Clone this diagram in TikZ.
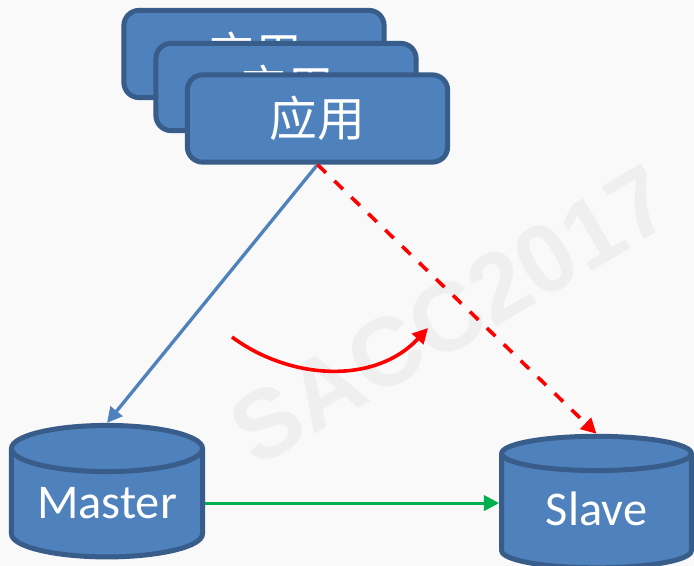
\documentclass[tikz,border=0pt]{standalone}
\usepackage{fontspec}
\setmainfont{Carlito}
\newfontfamily\cjkfont{Noto Sans CJK SC}
\newfontfamily\markfont{Liberation Sans}
\usetikzlibrary{arrows.meta,shapes.geometric}
\definecolor{pagebg}{HTML}{F9F9F9}
\definecolor{markgray}{HTML}{EFEFEF}
\definecolor{boxfill}{HTML}{4F81BD}
\definecolor{boxline}{HTML}{385D8A}
\definecolor{syncgreen}{HTML}{00B050}
\tikzset{
  appbox/.style={draw=boxline,fill=boxfill,line width=3.6pt,rounded corners=11pt,
    minimum width=188pt,minimum height=63pt,text=white,font=\cjkfont\fontsize{34.5}{40}\selectfont},
  dbnode/.style={cylinder,shape border rotate=90,shape aspect=0.31,draw=boxline,fill=boxfill,
    line width=3.6pt,text=white,text height=26pt,text depth=10pt,font=\fontsize{35}{40}\selectfont},
  readline/.style={color=boxfill,line width=2.4pt,-{Triangle[length=11pt,width=11pt]}},
  redline/.style={color=red,line width=2.6pt,-{Triangle[length=11pt,width=11pt]}},
  syncline/.style={color=syncgreen,line width=2.2pt,-{Triangle[length=11pt,width=11pt]}}
}
\begin{document}
\begin{tikzpicture}[x=0.01in,y=-0.01in]
  \fill[pagebg] (0,0) rectangle (694,566);
  \useasboundingbox (0,0) rectangle (694,566);

  \node[rotate=30.5,color=markgray,font=\markfont\bfseries\fontsize{70}{80}\selectfont] (mark) at (451,315) {SACC2017};

  \node[appbox] (app1) at (254,54) {应用};
  \node[appbox] (app2) at (286,87) {应用};
  \node[appbox] (app3) at (317.5,118.5) {应用};

  \node[dbnode,minimum width=138pt,minimum height=95pt] (master) at (107,507.5) {Master};
  \node[dbnode,minimum width=137pt,minimum height=95pt] (slave) at (596.5,514.5) {Slave};

  \coordinate (swstart) at (232,337);
  \coordinate (swend) at (428,328);

  \draw[readline] (app3.south) -- (master.north);
  \draw[redline,dash pattern=on 8.5pt off 8.5pt] (app3.south) -- (slave.north);
  \draw[syncline] ([yshift=3.2pt]master.east) -- ([yshift=3.2pt]master.east -| slave.west);
  \draw[redline] (swstart) .. controls (290,380) and (375,385) .. (swend);
\end{tikzpicture}
\end{document}
